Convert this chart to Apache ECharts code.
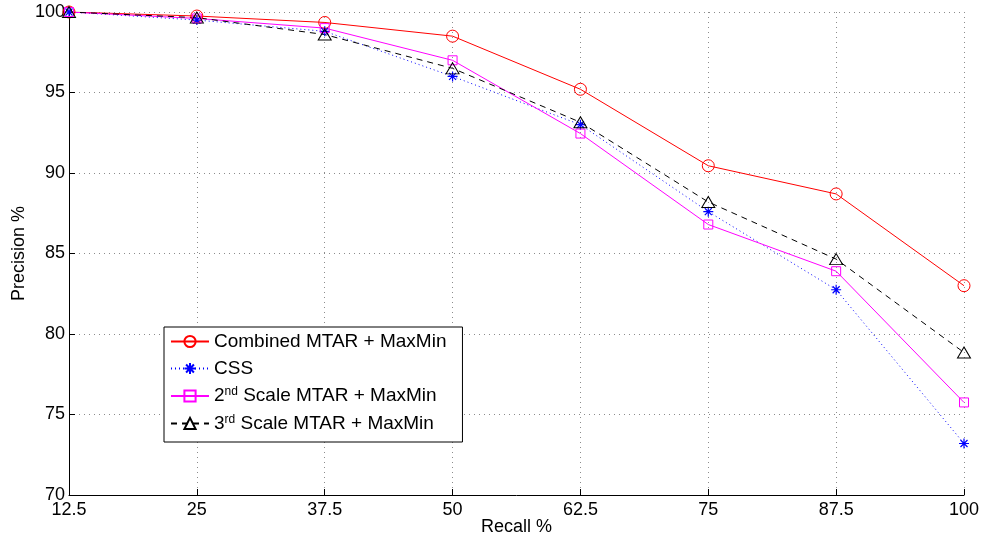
<!DOCTYPE html>
<html>
<head>
<meta charset="utf-8">
<script src="https://cdn.jsdelivr.net/npm/echarts@6/dist/echarts.min.js"></script>
<style>html,body{margin:0;padding:0;background:#fff;}#c{width:981px;height:537px;}</style>
</head>
<body>
<div id="c"></div>
<script>
var recall = [12.5, 25, 37.5, 50, 62.5, 75, 87.5, 100];
var combined = [100, 99.75, 99.35, 98.5, 95.2, 90.45, 88.7, 83.0];
var css = [100, 99.5, 98.8, 96.0, 93.0, 87.6, 82.75, 73.2];
var scale2 = [100, 99.6, 99.0, 97.0, 92.45, 86.8, 83.9, 75.75];
var scale3 = [100, 99.65, 98.6, 96.5, 93.15, 88.2, 84.65, 78.85];
var names = ['Combined MTAR + MaxMin', 'CSS', '2{sup|nd} Scale MTAR + MaxMin', '3{sup|rd} Scale MTAR + MaxMin'];
var xTicks = [12.5, 25, 37.5, 50, 62.5, 75, 87.5, 100];
var yTicks = [70, 75, 80, 85, 90, 95, 100];

function pairs(v) { return recall.map(function (r, i) { return [r, v[i]]; }); }
var FONT = '"Liberation Sans", Arial, Helvetica, sans-serif';
var asterisk = 'path://M10,0L10,20M0,10L20,10M3,3L17,17M17,3L3,17';

var chart = echarts.init(document.getElementById('c'));
chart.setOption({
  animation: false,
  backgroundColor: '#fff',
  grid: { left: 69, right: 17, top: 12, bottom: 42, containLabel: false, outerBoundsMode: 'none' },
  xAxis: {
    type: 'value', min: 12.5, max: 100, interval: 12.5,
    name: 'Recall %', nameLocation: 'middle', nameGap: 23, nameMoveOverlap: false,
    nameTextStyle: { fontFamily: FONT, fontSize: 18, color: '#000' },
    axisLine: { show: true, lineStyle: { color: '#000', width: 1 } },
    axisTick: { show: true, inside: true, length: 6, lineStyle: { color: '#000' } },
    axisLabel: { fontFamily: FONT, fontSize: 18, color: '#000', margin: 6,
      formatter: function (v) { return String(v); } },
    splitLine: { show: true, lineStyle: { color: '#8c8c8c', type: [1, 4], width: 1 } }
  },
  yAxis: {
    type: 'value', min: 70, max: 100, interval: 5,
    name: 'Precision %', nameLocation: 'middle', nameGap: 41, nameMoveOverlap: false,
    nameTextStyle: { fontFamily: FONT, fontSize: 18, color: '#000' },
    axisLine: { show: true, lineStyle: { color: '#000', width: 1 } },
    axisTick: { show: true, inside: true, length: 6, lineStyle: { color: '#000' } },
    axisLabel: { fontFamily: FONT, fontSize: 18, color: '#000', margin: 4 },
    splitLine: { show: true, lineStyle: { color: '#8c8c8c', type: [1, 4], width: 1 } }
  },
  legend: {
    orient: 'vertical', left: 164, top: 327,
    backgroundColor: '#fff', borderColor: '#000', borderWidth: 1,
    padding: [5, 16, 9, 6], itemGap: 8, itemWidth: 38, itemHeight: 14,
    textStyle: { fontFamily: FONT, fontSize: 19, color: '#000',
      rich: { sup: { fontFamily: FONT, fontSize: 12, verticalAlign: 'top', padding: [0, 0, 8, 0], color: '#000' } } },
    formatter: function (n) { return n; },
    data: names
  },
  series: [
    { name: names[0], type: 'line', data: pairs(combined), symbol: 'circle', symbolSize: 12,
      lineStyle: { color: '#ff0000', width: 1, type: 'solid' },
      itemStyle: { color: 'rgba(255,255,255,0)', borderColor: '#ff0000', borderWidth: 1 } },
    { name: names[1], type: 'line', data: pairs(css), symbol: asterisk, symbolSize: 10,
      lineStyle: { color: '#0000ff', width: 1, type: [1, 3] },
      itemStyle: { color: 'rgba(255,255,255,0)', borderColor: '#0000ff', borderWidth: 1.2 } },
    { name: names[2], type: 'line', data: pairs(scale2), symbol: 'rect', symbolSize: 9,
      lineStyle: { color: '#ff00ff', width: 1, type: 'solid' },
      itemStyle: { color: 'rgba(255,255,255,0)', borderColor: '#ff00ff', borderWidth: 1 } },
    { name: names[3], type: 'line', data: pairs(scale3), symbol: 'triangle', symbolSize: [13, 11],
      lineStyle: { color: '#000000', width: 1, type: [6, 5] },
      itemStyle: { color: 'rgba(255,255,255,0)', borderColor: '#000000', borderWidth: 1 } }
  ]
});
</script>
</body>
</html>
